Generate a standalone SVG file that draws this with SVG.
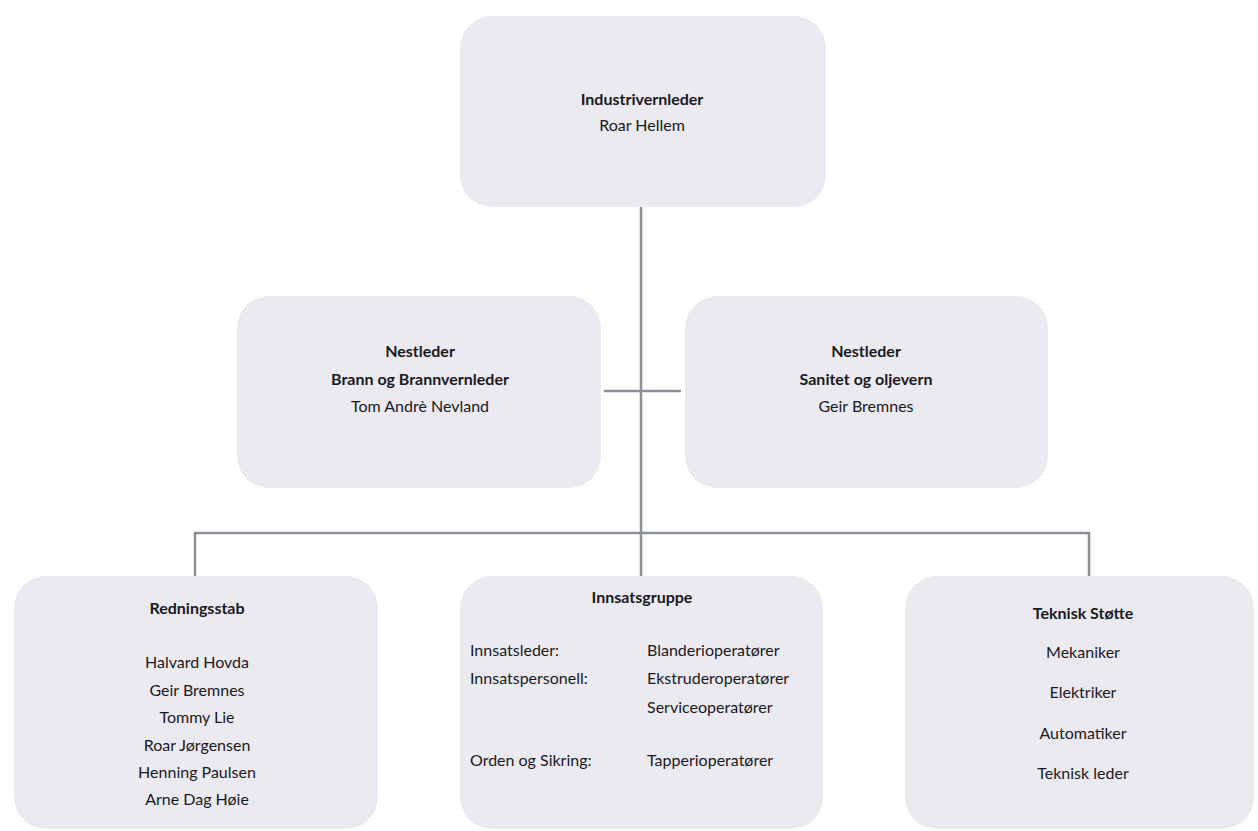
<svg xmlns="http://www.w3.org/2000/svg" width="1258" height="831" viewBox="0 0 1258 831">
<style>
.box{fill:#eceaf1;}
.t{font-family:Lato,"Open Sans","Liberation Sans",sans-serif;font-size:16px;fill:#19191d;}
.b{font-weight:bold;}
.c{text-anchor:middle;}
.ln{stroke:#8b8f98;stroke-width:2.5;fill:none;}
</style>
<rect width="1258" height="831" fill="#ffffff"/>
<g id="connectors">
<path class="ln" d="M641 207 V576"/>
<path class="ln" d="M604 391 H681"/>
<path class="ln" d="M195 576 V533 H1089 V576"/>
</g>
<g id="industrivernleder">
<rect class="box" x="460" y="16" width="366" height="191" rx="32"/>
<text class="t b c" x="642" y="105">Industrivernleder</text>
<text class="t c" x="642" y="131">Roar Hellem</text>
</g>
<g id="nestleder-brann">
<rect class="box" x="237" y="296" width="364" height="192" rx="32"/>
<text class="t b c" x="420" y="357">Nestleder</text>
<text class="t b c" x="420" y="385">Brann og Brannvernleder</text>
<text class="t c" x="420" y="412">Tom Andrè Nevland</text>
</g>
<g id="nestleder-sanitet">
<rect class="box" x="685" y="296" width="363" height="192" rx="32"/>
<text class="t b c" x="866" y="357">Nestleder</text>
<text class="t b c" x="866" y="385">Sanitet og oljevern</text>
<text class="t c" x="866" y="412">Geir Bremnes</text>
</g>
<g id="redningsstab">
<rect class="box" x="14" y="576" width="364" height="253" rx="32"/>
<text class="t b c" x="197" y="614">Redningsstab</text>
<text class="t c" x="197" y="668">Halvard Hovda</text>
<text class="t c" x="197" y="696">Geir Bremnes</text>
<text class="t c" x="197" y="723">Tommy Lie</text>
<text class="t c" x="197" y="751">Roar Jørgensen</text>
<text class="t c" x="197" y="778">Henning Paulsen</text>
<text class="t c" x="197" y="805">Arne Dag Høie</text>
</g>
<g id="innsatsgruppe">
<rect class="box" x="460" y="576" width="363" height="253" rx="32"/>
<text class="t b c" x="642" y="603">Innsatsgruppe</text>
<text class="t" x="470" y="656">Innsatsleder:</text>
<text class="t" x="470" y="684">Innsatspersonell:</text>
<text class="t" x="470" y="766">Orden og Sikring:</text>
<text class="t" x="647" y="656">Blanderioperatører</text>
<text class="t" x="647" y="684">Ekstruderoperatører</text>
<text class="t" x="647" y="713">Serviceoperatører</text>
<text class="t" x="647" y="766">Tapperioperatører</text>
</g>
<g id="teknisk-stotte">
<rect class="box" x="905" y="576" width="349" height="253" rx="32"/>
<text class="t b c" x="1083" y="619">Teknisk Støtte</text>
<text class="t c" x="1083" y="658">Mekaniker</text>
<text class="t c" x="1083" y="698">Elektriker</text>
<text class="t c" x="1083" y="739">Automatiker</text>
<text class="t c" x="1083" y="779">Teknisk leder</text>
</g>
</svg>
